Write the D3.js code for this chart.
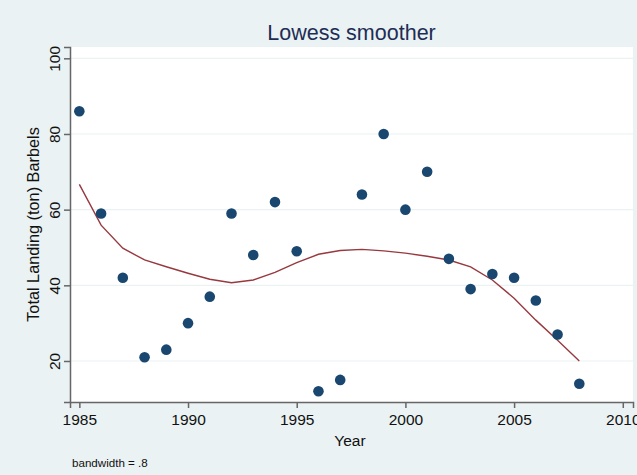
<!DOCTYPE html>
<html>
<head>
<meta charset="utf-8">
<script src="https://cdn.jsdelivr.net/npm/d3@7"></script>
<style>
  html, body { margin: 0; padding: 0; background: #eaf2f3; }
  svg { display: block; }
  text { font-family: "Liberation Sans", Arial, Helvetica, sans-serif; }
</style>
</head>
<body>
<svg id="chart" width="637" height="475"></svg>
<script>
// Annual landings of barbels, with a lowess fit (bandwidth .8)
const years = [1985, 1986, 1987, 1988, 1989, 1990, 1991, 1992, 1993, 1994, 1995, 1996,
               1997, 1998, 1999, 2000, 2001, 2002, 2003, 2004, 2005, 2006, 2007, 2008];
const landings = [86, 59, 42, 21, 23, 30, 37, 59, 48, 62, 49, 12,
                  15, 64, 80, 60, 70, 47, 39, 43, 42, 36, 27, 14];
const lowessFit = [66.7, 55.9, 49.8, 46.7, 44.9, 43.2, 41.6, 40.7, 41.4, 43.4, 46.0, 48.2,
                   49.2, 49.5, 49.1, 48.5, 47.7, 46.7, 44.9, 41.4, 36.6, 30.8, 25.5, 20.0];
const xTicks = [1985, 1990, 1995, 2000, 2005, 2010];
const yTicks = [20, 40, 60, 80, 100];

const svg = d3.select("#chart");
const W = 637, H = 475;
const plot = { left: 70, right: 633, top: 47, bottom: 402 };

svg.append("rect").attr("width", W).attr("height", H).attr("fill", "#eaf2f3");
svg.append("rect")
  .attr("x", plot.left).attr("y", plot.top)
  .attr("width", plot.right - plot.left).attr("height", plot.bottom - plot.top)
  .attr("fill", "#ffffff");

const x = d3.scaleLinear().domain([1984.57, 2010.47]).range([plot.left, plot.right]);
const y = d3.scaleLinear().domain([9.16, 102.99]).range([plot.bottom, plot.top]);

// horizontal grid
svg.append("g").selectAll("line").data(yTicks).join("line")
  .attr("x1", plot.left).attr("x2", plot.right)
  .attr("y1", d => y(d)).attr("y2", d => y(d))
  .attr("stroke", "#eaf2f3").attr("stroke-width", 1.2);

// axes
const axisColor = "#666";
const xAxis = svg.append("g")
  .attr("transform", `translate(0,${plot.bottom})`)
  .call(d3.axisBottom(x).tickValues(xTicks).tickFormat(d3.format("d")).tickSize(6).tickPadding(6));
xAxis.select(".domain").attr("stroke", axisColor).attr("stroke-width", 1.5);
xAxis.selectAll(".tick line").attr("stroke", axisColor).attr("stroke-width", 1.5);
xAxis.selectAll(".tick text").attr("font-size", 15.5).attr("fill", "#111")
  .attr("font-family", "Liberation Sans, Arial, sans-serif");

const yAxis = svg.append("g")
  .attr("transform", `translate(${plot.left},0)`)
  .call(d3.axisLeft(y).tickValues(yTicks).tickSize(6).tickPadding(4));
yAxis.select(".domain").attr("stroke", axisColor).attr("stroke-width", 1.5);
yAxis.selectAll(".tick line").attr("stroke", axisColor).attr("stroke-width", 1.5);
yAxis.selectAll(".tick text")
  .attr("font-size", 15.5).attr("fill", "#111")
  .attr("font-family", "Liberation Sans, Arial, sans-serif")
  .attr("x", null).attr("dy", null)
  .attr("text-anchor", "middle")
  .attr("transform", "translate(-10,0) rotate(-90)");

// lowess line
svg.append("path")
  .datum(years.map((yr, i) => [yr, lowessFit[i]]))
  .attr("fill", "none")
  .attr("stroke", "#97393f")
  .attr("stroke-width", 1.4)
  .attr("d", d3.line().x(d => x(d[0])).y(d => y(d[1])));

// scatter points
svg.append("g").selectAll("circle").data(years.map((yr, i) => [yr, landings[i]])).join("circle")
  .attr("cx", d => x(d[0])).attr("cy", d => y(d[1])).attr("r", 5.3)
  .attr("fill", "#1a476f");

// title and labels
svg.append("text").attr("x", (plot.left + plot.right) / 2).attr("y", 39.5)
  .attr("text-anchor", "middle").attr("font-size", 21.5).attr("fill", "#1e2d55")
  .text("Lowess smoother");

svg.append("text").attr("x", 350).attr("y", 446)
  .attr("text-anchor", "middle").attr("font-size", 15.5).attr("fill", "#111")
  .text("Year");

svg.append("text")
  .attr("transform", `translate(38.5,${(plot.top + plot.bottom) / 2}) rotate(-90)`)
  .attr("text-anchor", "middle").attr("font-size", 16.3).attr("fill", "#111")
  .text("Total Landing (ton) Barbels");

svg.append("text").attr("x", 72).attr("y", 467)
  .attr("font-size", 11.6).attr("fill", "#111")
  .text("bandwidth = .8");
</script>
</body>
</html>
